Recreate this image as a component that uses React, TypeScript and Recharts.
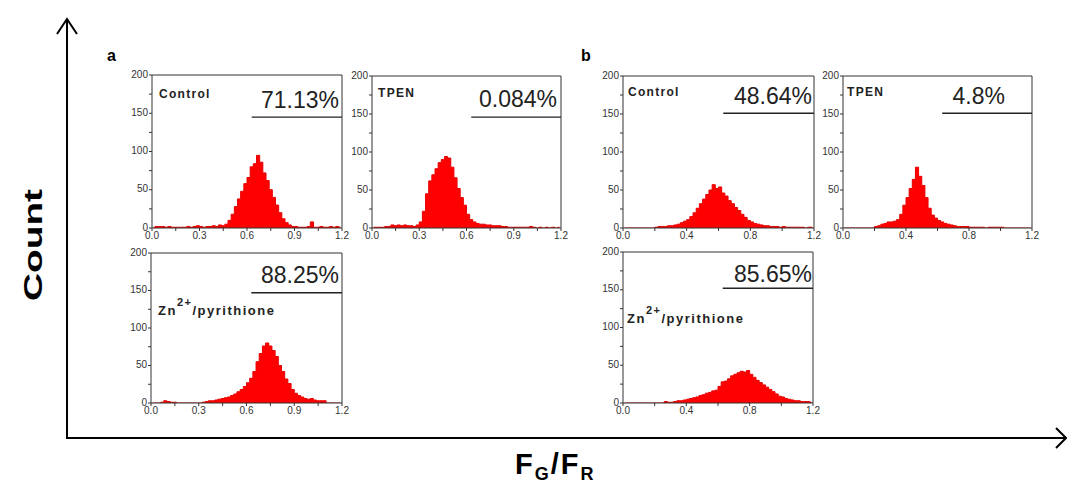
import { AreaChart, Area, XAxis, YAxis, ReferenceLine } from "recharts"

// bin centres of the FG/FR histograms (bin width 0.02)
const binCenters = [
  0.01, 0.03, 0.05, 0.07, 0.09, 0.11, 0.13, 0.15, 0.17, 0.19,
  0.21, 0.23, 0.25, 0.27, 0.29, 0.31, 0.33, 0.35, 0.37, 0.39,
  0.41, 0.43, 0.45, 0.47, 0.49, 0.51, 0.53, 0.55, 0.57, 0.59,
  0.61, 0.63, 0.65, 0.67, 0.69, 0.71, 0.73, 0.75, 0.77, 0.79,
  0.81, 0.83, 0.85, 0.87, 0.89, 0.91, 0.93, 0.95, 0.97, 0.99,
  1.01, 1.03, 1.05, 1.07, 1.09, 1.11, 1.13, 1.15, 1.17, 1.19,
]

const aControl = [
  1, 2, 2, 2, 1, 2, 1, 1, 1, 1,
  1, 2, 1, 2, 3, 2, 1, 2, 2, 3,
  2, 4, 3, 5, 10, 18, 28, 38, 48, 58,
  66, 80, 84, 95, 86, 72, 62, 50, 40, 30,
  20, 12, 7, 4, 2, 2, 1, 1, 1, 2,
  8, 1, 1, 2, 1, 1, 2, 1, 2, 1,
]
const aTpen = [
  1, 1, 1, 1, 2, 2, 4, 3, 4, 3,
  4, 3, 3, 2, 4, 8, 22, 45, 62, 70,
  78, 86, 90, 94, 92, 80, 66, 52, 40, 30,
  18, 11, 8, 6, 5, 5, 4, 4, 3, 3,
  3, 2, 2, 1, 1, 1, 1, 1, 1, 1,
  2, 1, 0, 1, 0, 1, 0, 1, 0, 1,
]
const aZinc = [
  0, 0, 0, 1, 3, 2, 1, 1, 0, 0,
  0, 0, 0, 0, 0, 0, 1, 2, 3, 3,
  4, 5, 6, 7, 8, 10, 12, 15, 18, 22,
  27, 33, 42, 55, 66, 76, 80, 76, 70, 62,
  50, 42, 32, 26, 18, 13, 10, 8, 6, 5,
  6, 4, 3, 3, 3, 0, 0, 0, 0, 0,
]
const bControl = [
  0, 0, 0, 0, 0, 0, 0, 0, 0, 0,
  1, 2, 2, 2, 3, 3, 4, 5, 7, 9,
  11, 15, 20, 26, 32, 38, 44, 50, 57, 52,
  54, 46, 42, 36, 32, 27, 23, 18, 14, 10,
  8, 6, 5, 4, 3, 3, 2, 2, 2, 1,
  2, 1, 1, 1, 1, 1, 1, 0, 1, 1,
]
const bTpen = [
  0, 0, 0, 0, 0, 0, 0, 0, 0, 0,
  2, 3, 5, 6, 8, 8, 9, 11, 18, 30,
  40, 52, 64, 80, 68, 56, 40, 26, 17, 13,
  10, 8, 6, 5, 4, 3, 2, 2, 2, 2,
  1, 1, 1, 1, 1, 0, 1, 1, 1, 1,
  1, 0, 0, 0, 0, 0, 0, 0, 0, 0,
]
const bZinc = [
  0, 0, 0, 0, 0, 0, 0, 0, 0, 0,
  0, 0, 0, 2, 1, 1, 2, 3, 3, 4,
  5, 6, 7, 8, 10, 11, 13, 14, 16, 17,
  22, 28, 29, 32, 36, 38, 40, 42, 41, 43,
  38, 34, 30, 27, 24, 21, 18, 15, 12, 9,
  8, 6, 5, 4, 3, 3, 2, 2, 2, 1,
]

const countTicks = [0, 25, 50, 75, 100, 125, 150, 175, 200]
const countLabels = [0, 50, 100, 150, 200]
const ticksA = [0, 0.15, 0.3, 0.45, 0.6, 0.75, 0.9, 1.05, 1.2]
const labelsA = [0, 0.3, 0.6, 0.9, 1.2]
const ticksB = [0, 0.2, 0.4, 0.6, 0.8, 1.0, 1.2]
const labelsB = [0, 0.4, 0.8, 1.2]

const panelNames = ["Control", "TPEN", "Zn", "Control", "TPEN", "Zn"]
const percentages = ["71.13%", "0.084%", "88.25%", "48.64%", "4.8%", "85.65%"]
const gateLevels = [145, 146, 147, 151, 151, 152]
const gateStart = 0.63

const AXIS = "#333"
const RED = "#ff0000"
const NARROW = "'Liberation Sans Narrow', 'Arial Narrow', 'Liberation Sans', Arial, sans-serif"
const SANS = "'Liberation Sans', Arial, sans-serif"

interface Box { left: number; top: number; width: number; height: number }

interface HistProps {
  counts: number[]
  xTicks: number[]
  xLabels: number[]
  box: Box
  gate: number
}

function Histogram({ counts, xTicks, xLabels, box, gate }: HistProps) {
  const data = binCenters.map((x, i) => ({ x, count: counts[i] }))
  const tick = { fill: "#333", fontSize: 10, fontFamily: NARROW }
  return (
    <div style={{ position: "absolute", left: box.left - 25, top: box.top - 5 }}>
      <AreaChart
        width={box.width + 37}
        height={box.height + 26}
        data={data}
        margin={{ top: 5, right: 12, left: 0, bottom: 6 }}
      >
        <XAxis
          type="number"
          dataKey="x"
          domain={[0, 1.2]}
          ticks={xTicks}
          interval={0}
          tickFormatter={(v: number) => (xLabels.includes(v) ? v.toFixed(1) : "")}
          height={15}
          tickSize={3}
          tickMargin={1}
          stroke={AXIS}
          tick={tick}
          allowDataOverflow
        />
        <YAxis
          type="number"
          domain={[0, 200]}
          ticks={countTicks}
          interval={0}
          tickFormatter={(v: number) => (countLabels.includes(v) ? String(v) : "")}
          width={25}
          tickSize={3}
          tickMargin={1}
          stroke={AXIS}
          tick={{ ...tick, dy: -1 }}
          allowDataOverflow
        />
        <Area
          type="step"
          dataKey="count"
          stroke="#e80000"
          strokeWidth={1}
          fill={RED}
          fillOpacity={1}
          dot={false}
          activeDot={false}
          isAnimationActive={false}
        />
        <ReferenceLine y={200} stroke={AXIS} />
        <ReferenceLine x={1.2} stroke={AXIS} />
        <ReferenceLine
          segment={[{ x: gateStart, y: gate }, { x: 1.2, y: gate }]}
          stroke="#222"
          strokeWidth={1.3}
        />
      </AreaChart>
    </div>
  )
}

const boxes: Box[] = [
  { left: 152, top: 75, width: 190, height: 153 },
  { left: 372, top: 76, width: 189, height: 152 },
  { left: 151, top: 253, width: 191, height: 150 },
  { left: 623, top: 76, width: 191, height: 152 },
  { left: 843, top: 76, width: 189, height: 152 },
  { left: 623, top: 252, width: 190, height: 151 },
]
const seriesList = [aControl, aTpen, aZinc, bControl, bTpen, bZinc]
const namePos = [[159, 98], [378, 97], [158, 315], [628, 96], [847, 96], [627, 323]]
const pctPos = [[339, 108], [557, 107], [339, 283], [812, 104], [1005, 104], [812, 282]]

export default function App() {
  return (
    <div
      style={{
        position: "absolute",
        left: 0,
        top: 0,
        width: 1067,
        height: 486,
        background: "#fff",
        fontFamily: SANS,
      }}
    >
      {seriesList.map((counts, i) => (
        <Histogram
          key={i}
          counts={counts}
          xTicks={i < 3 ? ticksA : ticksB}
          xLabels={i < 3 ? labelsA : labelsB}
          box={boxes[i]}
          gate={gateLevels[i]}
        />
      ))}
      <svg
        width={1067}
        height={486}
        style={{ position: "absolute", left: 0, top: 0, pointerEvents: "none" }}
      >
        <g stroke="#000" strokeWidth={2} fill="none">
          <line x1={67} y1={19} x2={67} y2={438} />
          <polyline points="57,34 67,19 77,34" />
          <line x1={66} y1={438} x2={1065} y2={438} />
          <polyline points="1056,428 1066,438 1056,448" />
        </g>
        <text
          transform="translate(42,245) rotate(-90)"
          textAnchor="middle"
          fontSize={26}
          fontWeight="bold"
          fontFamily={SANS}
          textLength={112}
          lengthAdjust="spacingAndGlyphs"
        >
          Count
        </text>
        <text x={515} y={474} fontSize={29} fontWeight="bold" fontFamily={SANS} letterSpacing={2}>
          F<tspan fontSize={18} dy={6}>G</tspan>
          <tspan fontSize={29} dy={-6}>/F</tspan>
          <tspan fontSize={18} dy={6}>R</tspan>
        </text>
        <text x={107} y={61} fontSize={16} fontWeight="bold" fontFamily={SANS}>a</text>
        <text x={581} y={61} fontSize={16} fontWeight="bold" fontFamily={SANS}>b</text>
        {panelNames.map((name, i) =>
          name === "Zn" ? (
            <text
              key={i}
              x={namePos[i][0]}
              y={namePos[i][1]}
              fontSize={13}
              fontWeight="bold"
              fontFamily={SANS}
              letterSpacing={1.5}
              fill="#222"
            >
              Zn<tspan fontSize={11} dy={-9}>2+</tspan>
              <tspan fontSize={13} dy={9}>/pyrithione</tspan>
            </text>
          ) : (
            <text
              key={i}
              x={namePos[i][0]}
              y={namePos[i][1]}
              fontSize={12}
              fontWeight="bold"
              fontFamily={SANS}
              letterSpacing={1.3}
              fill="#222"
            >
              {name}
            </text>
          )
        )}
        {percentages.map((p, i) => (
          <text
            key={i}
            x={pctPos[i][0]}
            y={pctPos[i][1]}
            textAnchor="end"
            fontSize={23}
            fontFamily={SANS}
            fill="#222"
          >
            {p}
          </text>
        ))}
      </svg>
    </div>
  )
}
